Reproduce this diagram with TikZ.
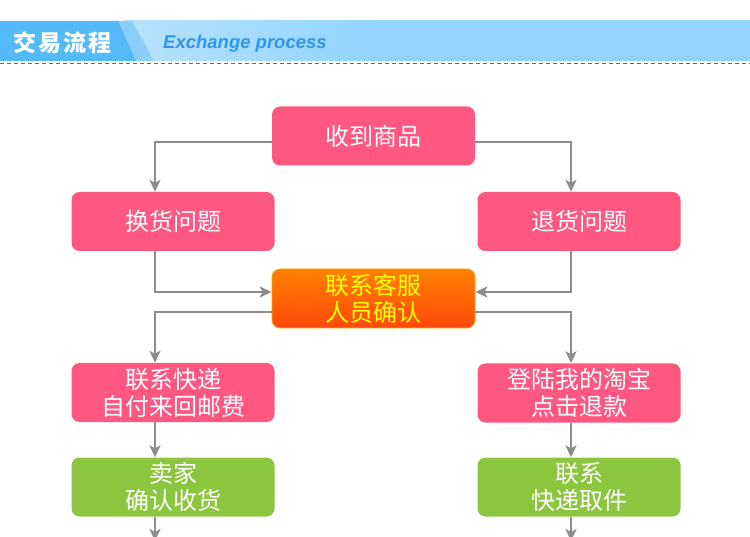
\documentclass[tikz,border=0pt]{standalone}
\usepackage{fontspec}
\newfontfamily\cjk{Noto Sans CJK SC}
\newfontfamily\enfont{Liberation Sans}
\usetikzlibrary{arrows.meta}
\definecolor{pinkbox}{RGB}{255,88,128}
\definecolor{greenbox}{RGB}{140,198,63}
\definecolor{arrowgray}{RGB}{140,140,140}
\definecolor{hdark}{RGB}{85,186,248}
\definecolor{hmid}{RGB}{140,206,250}
\definecolor{hlight}{RGB}{228,244,254}
\definecolor{hband}{RGB}{147,212,253}
\definecolor{entxt}{RGB}{50,150,232}
\definecolor{dashblue}{RGB}{30,120,220}
\pgfdeclarehorizontalshading{headband}{100bp}{color(0bp)=(hlight); color(45bp)=(hband); color(100bp)=(hband)}
\tikzset{
  box/.style={rounded corners=8pt, minimum width=203pt, minimum height=59pt, inner sep=0pt,
    align=center, text=white, font=\cjk\fontsize{24}{27}\selectfont},
  pinkstep/.style={box, fill=pinkbox},
  greenstep/.style={box, fill=greenbox},
  orangestep/.style={box, draw=orange!70!yellow, line width=0.8pt, top color={rgb,255:red,255;green,130;blue,0}, bottom color={rgb,255:red,255;green,72;blue,10}, text={rgb,255:red,255;green,255;blue,0}},
  conn/.style={draw=arrowgray, line width=2pt, -{Stealth[length=12pt,width=11pt,inset=3pt]}},
}
\begin{document}
\begin{tikzpicture}[x=1pt,y=-1pt]
\useasboundingbox (0,0) rectangle (750,537);
\clip (0,0) rectangle (750,537);
\fill[white] (0,0) rectangle (750,537);
% header
\shade[shading=headband] (125,21) rectangle (750,61);
\fill[hmid] (116,21) -- (132,21) -- (154,61) -- (134,61) -- cycle;
\fill[hdark] (0,21) -- (118,21) -- (136,61) -- (0,61) -- cycle;
\draw[dashblue, line width=1.5pt, dash pattern=on 4pt off 3pt] (0,63.5) -- (750,63.5);
\node[text=white, font=\cjk\bfseries\fontsize{23}{23}\selectfont, anchor=west, inner sep=0pt] (ht) at (13,43) {交\hspace{2pt}易\hspace{2pt}流\hspace{2pt}程};
\node[text=entxt, font=\enfont\bfseries\itshape\fontsize{18.5}{19}\selectfont, anchor=west, inner sep=0pt] (he) at (163,44) {Exchange process};
% boxes
\node[pinkstep] (recv) at (373.5,136) {收到商品};
\node[pinkstep] (exch) at (173,221.5) {换货问题};
\node[pinkstep] (ret) at (579,221.5) {退货问题};
\node[orangestep] (cs) at (373.5,298.5) {联系客服\\人员确认};
\node[pinkstep] (exp) at (173,392.5) {联系快递\\自付来回邮费};
\node[pinkstep] (tb) at (579,393) {登陆我的淘宝\\点击退款};
\node[greenstep] (sel) at (173,487) {卖家\\确认收货};
\node[greenstep] (pick) at (579,487) {联系\\快递取件};
\coordinate (endl) at (155,541);
\coordinate (endr) at (571,541);
% connectors
\draw[conn] (recv.west |- 0,142) -| (exch.north -| 155,0);
\draw[conn] (recv.east |- 0,142) -| (ret.north -| 571,0);
\draw[conn] (exch.south -| 155,0) |- (cs.west |- 0,292);
\draw[conn] (ret.south -| 571,0) |- (cs.east |- 0,292);
\draw[conn] (cs.west |- 0,312) -| (exp.north -| 155,0);
\draw[conn] (cs.east |- 0,312) -| (tb.north -| 571,0);
\draw[conn] (exp.south -| 155,0) -- (sel.north -| 155,0);
\draw[conn] (tb.south -| 571,0) -- (pick.north -| 571,0);
\draw[conn] (sel.south -| 155,0) -- (endl);
\draw[conn] (pick.south -| 571,0) -- (endr);
\end{tikzpicture}
\end{document}
